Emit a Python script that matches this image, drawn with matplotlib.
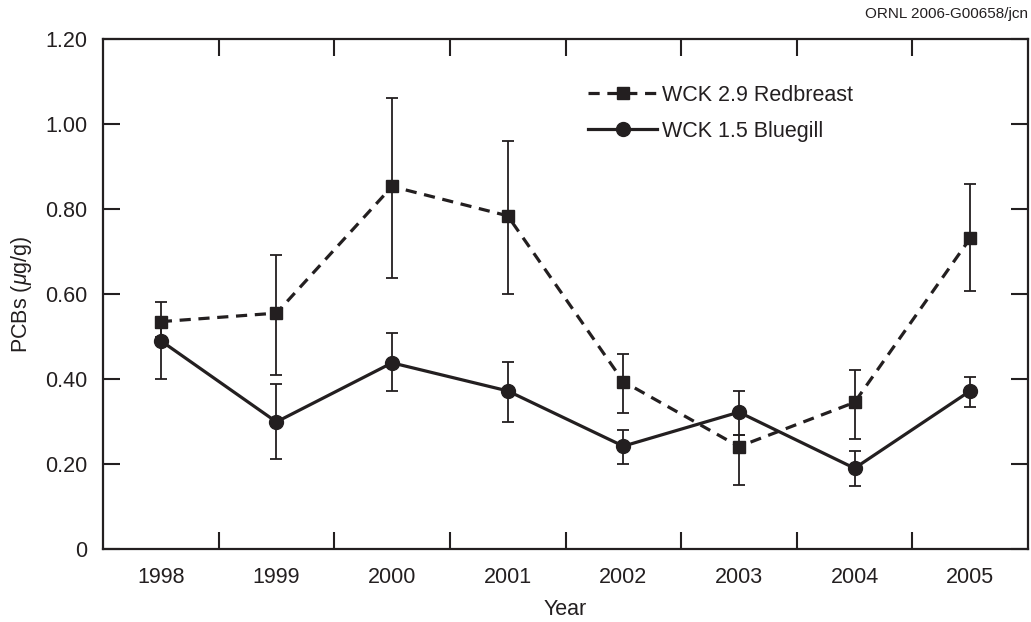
import numpy as np
import matplotlib
matplotlib.use("Agg")
import matplotlib.pyplot as plt
from matplotlib.ticker import FixedLocator, FixedFormatter

plt.rcParams['font.family'] = ['Liberation Sans', 'DejaVu Sans']
plt.rcParams['mathtext.fontset'] = 'custom'
plt.rcParams['mathtext.rm'] = 'Liberation Sans'
plt.rcParams['mathtext.it'] = 'Liberation Sans:italic'

years = [1998, 1999, 2000, 2001, 2002, 2003, 2004, 2005]

# WCK 2.9 redbreast sunfish: mean PCB concentration and error-bar limits
redbreast_mean = [0.535, 0.555, 0.853, 0.784, 0.394, 0.241, 0.345, 0.731]
redbreast_low = [0.50, 0.409, 0.638, 0.599, 0.321, 0.151, 0.260, 0.608]
redbreast_high = [0.582, 0.692, 1.061, 0.959, 0.459, 0.268, 0.421, 0.859]

# WCK 1.5 bluegill: mean PCB concentration and error-bar limits
bluegill_mean = [0.490, 0.299, 0.438, 0.372, 0.242, 0.322, 0.190, 0.372]
bluegill_low = [0.400, 0.211, 0.372, 0.300, 0.199, 0.268, 0.149, 0.335]
bluegill_high = [0.52, 0.389, 0.509, 0.440, 0.280, 0.372, 0.231, 0.405]

y_ticks = [0, 0.2, 0.4, 0.6, 0.8, 1.0, 1.2]
y_tick_labels = ["0", "0.20", "0.40", "0.60", "0.80", "1.00", "1.20"]

fig = plt.figure(figsize=(10.31, 6.22), dpi=100)
ax = fig.add_axes([103 / 1031, 1 - 549 / 622, (1028 - 103) / 1031, (549 - 39) / 622])

ink = "#231f20"


def draw_series(mean, low, high, marker, ms, ls, label):
    mean = np.asarray(mean)
    yerr = np.vstack([mean - np.asarray(low), np.asarray(high) - mean])
    ax.errorbar(years, mean, yerr=yerr, fmt="none", ecolor=ink,
                elinewidth=1.3, capsize=4, capthick=1.3, zorder=2)
    line, = ax.plot(years, mean, color=ink, linestyle=ls, linewidth=2.3,
                    marker=marker, markersize=ms, markerfacecolor=ink,
                    markeredgecolor=ink, label=label, zorder=3)
    return line


l1 = draw_series(redbreast_mean, redbreast_low, redbreast_high, "s", 8, (0, (3.5, 2.4)),
                 "WCK 2.9 Redbreast")
l2 = draw_series(bluegill_mean, bluegill_low, bluegill_high, "o", 10, "-",
                 "WCK 1.5 Bluegill")

ax.set_xlim(1997.5, 2005.5)
ax.set_ylim(0, 1.2)

ax.xaxis.set_major_locator(FixedLocator(years))
ax.xaxis.set_major_formatter(FixedFormatter([str(y) for y in years]))
ax.xaxis.set_minor_locator(FixedLocator([y + 0.5 for y in years[:-1]]))
ax.yaxis.set_major_locator(FixedLocator(y_ticks))
ax.yaxis.set_major_formatter(FixedFormatter(y_tick_labels))

ax.tick_params(axis="x", which="major", length=0, pad=13, labelsize=15.5, colors=ink)
ax.tick_params(axis="x", which="minor", direction="in", length=12, width=1.5,
               top=True, bottom=True, color=ink)
ax.tick_params(axis="y", which="major", direction="in", length=12, width=1.5,
               left=True, right=True, pad=11, labelsize=15.5, colors=ink)

for s in ax.spines.values():
    s.set_linewidth(1.6)
    s.set_color(ink)

ax.set_xlabel("Year", fontsize=15.5, color=ink, labelpad=8)
ax.set_ylabel(r"PCBs ($\mu$g/g)", fontsize=15.5, color=ink, labelpad=8)

leg = ax.legend(handles=[l1, l2], loc="upper left", bbox_to_anchor=(0.5155, 0.927),
                frameon=False, fontsize=15.5, handlelength=3.2, handletextpad=0.2,
                labelspacing=0.7, borderaxespad=0)
for t in leg.get_texts():
    t.set_color(ink)

fig.text(1028 / 1031, 1 - 14 / 622, "ORNL 2006-G00658/jcn", ha="right", va="center",
         fontsize=11, color=ink)

fig.savefig("out.png", dpi=100)
